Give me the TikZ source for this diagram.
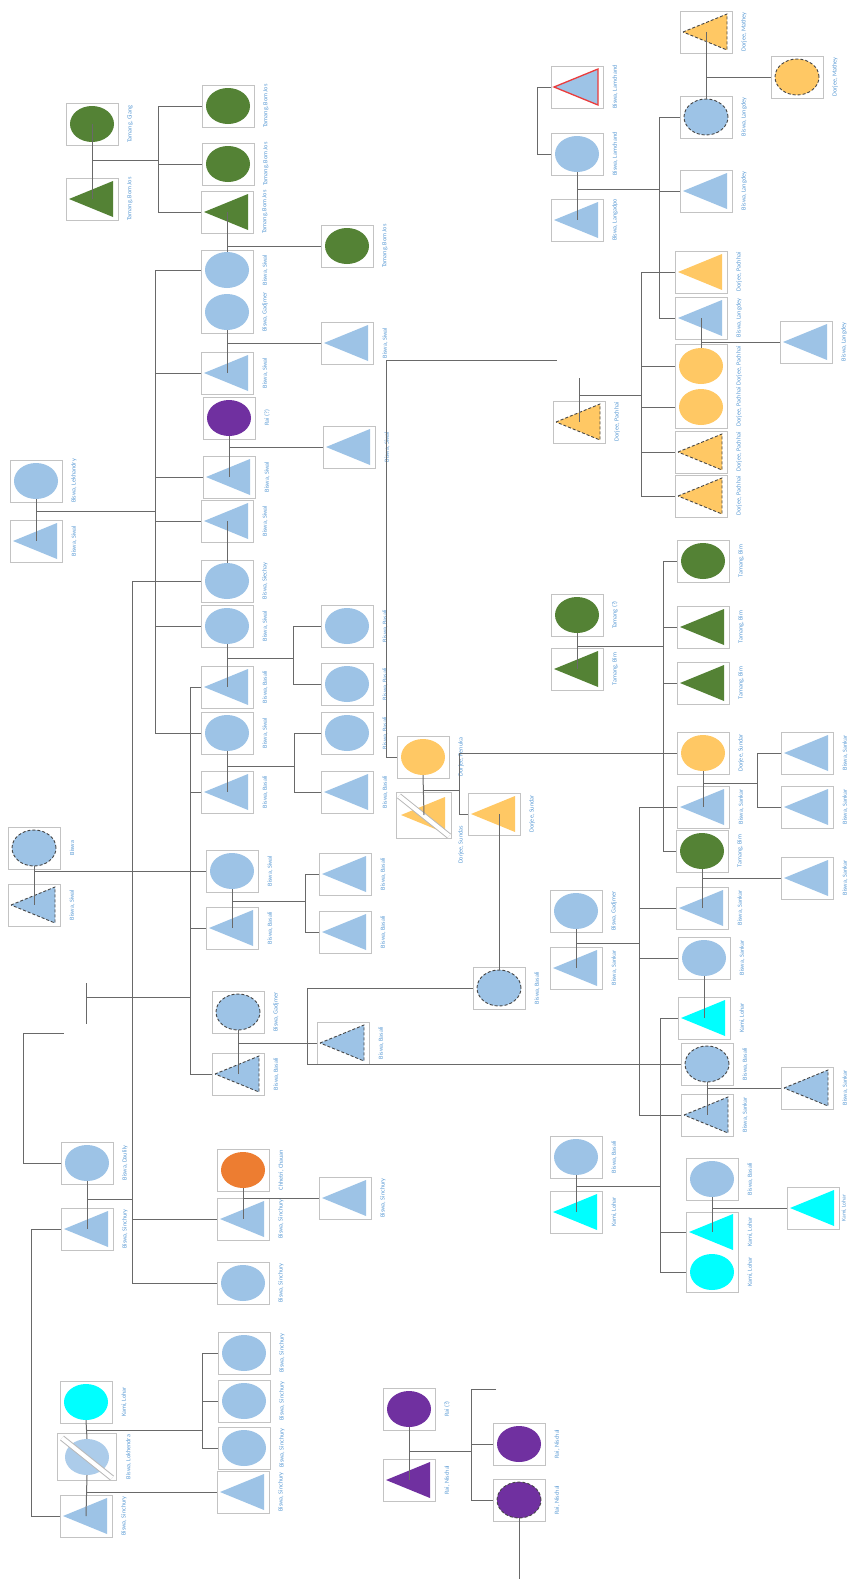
\documentclass[tikz,border=0pt]{standalone}
\usepackage{fontspec}
\setmainfont{Carlito}
\usetikzlibrary{calc,shapes.geometric}
\definecolor{pblue}{RGB}{157,195,230}
\definecolor{pgreen}{RGB}{84,130,53}
\definecolor{pyellow}{RGB}{255,200,100}
\definecolor{ppurple}{RGB}{112,48,160}
\definecolor{porange}{RGB}{237,125,49}
\definecolor{pcyan}{RGB}{0,255,255}
\definecolor{labc}{RGB}{91,155,213}
\definecolor{linec}{RGB}{105,105,105}
\definecolor{boxc}{RGB}{195,195,195}
\definecolor{dashc}{RGB}{70,70,70}
\definecolor{redc}{RGB}{235,60,60}
\tikzset{
 pbox/.style={draw=boxc, line width=0.8pt, minimum width=52pt, minimum height=42pt, inner sep=0pt, outer sep=0pt},
 ell/.style={ellipse, minimum width=44pt, minimum height=36pt, inner sep=0pt, draw=none},
 lab/.style={rotate=90, text=labc, font=\fontsize{6.2}{7}\selectfont, inner sep=0pt},
 ln/.style={draw=linec, line width=1pt},
 dsh/.style={draw=dashc, line width=0.9pt, dash pattern=on 3pt off 2pt},
 band/.style={line width=6pt, draw=gray!55},
 bandin/.style={line width=4pt, draw=white}
}
\newcommand\pcirc[6][]{%
  \node[pbox,#1] (#2) at (#3,#4) {};
  \node[ell,#5] (#2s) at (#2.center) {};
  \coordinate (#2-t) at (#2s.north);
  \coordinate (#2-b) at (#2s.south);
  \node[lab] (#2l) at ($(#2.east)+(12,0)$) {#6};}
\newcommand\ptri[6][]{%
  \node[pbox,#1] (#2) at (#3,#4) {};
  \path[#5] ($(#2.center)+(-23,0)$) -- ($(#2.center)+(21,-18)$) -- ($(#2.center)+(21,18)$) -- cycle;
  \coordinate (#2-t) at (#2.center);
  \coordinate (#2-b) at (#2.center);
  \node[lab] (#2l) at ($(#2.east)+(12,0)$) {#6};}
\newcommand\kidl[2]{\draw[ln] (#1 |- #2.west) -- (#2.west);}
\newcommand\vbarr[3]{\draw[ln] (#1 |- #2.west) -- (#1 |- #3.west);}
\begin{document}
\begin{tikzpicture}[x=1pt,y=-1pt]
\fill[white] (0,0) rectangle (849,1579);
\useasboundingbox (0,0) rectangle (849,1579);
% ---------- persons: top-left Tamang / Biswa
\pcirc{P1}{92}{124}{fill=pgreen}{Tamang, Giang}
\ptri{P2}{92}{199}{fill=pgreen}{Tamang, Bom Jos}
\pcirc{P3}{228}{106}{fill=pgreen}{Tamang, Bom Jos}
\pcirc{P4}{228}{164}{fill=pgreen}{Tamang, Bom Jos}
\ptri{P5}{227}{212}{fill=pgreen}{Tamang, Bom Jos}
\pcirc{P6}{347}{246}{fill=pgreen}{Tamang, Bom Jos}
\node[pbox,minimum height=83pt] (G1) at (227,291.5) {};
\pcirc[draw=none]{P7}{227}{270}{fill=pblue}{Biswa, Siwal}
\pcirc[draw=none]{P8}{227}{312}{fill=pblue}{Biswa, Gadjmer}
\ptri{P9}{227}{373}{fill=pblue}{Biswa, Siwal}
\ptri{P10}{347}{343}{fill=pblue}{Biswa, Siwal}
\pcirc{P11}{229}{418}{fill=ppurple}{Rai (?)}
\ptri{P12}{229}{477}{fill=pblue}{Biswa, Siwal}
\ptri{P13}{349}{447}{fill=pblue}{Biswa, Siwal}
\pcirc{P14}{36}{481}{fill=pblue}{Biswa, Lekhandry}
\ptri{P15}{36}{541}{fill=pblue}{Biswa, Siwal}
\ptri{P16}{227}{521}{fill=pblue}{Biswa, Siwal}
\pcirc{P17}{227}{581}{fill=pblue}{Biswa, Siechay}
\pcirc{P18}{227}{626}{fill=pblue}{Biswa, Siwal}
\ptri{P19}{227}{687}{fill=pblue}{Biswa, Basali}
\pcirc{P21}{347}{626}{fill=pblue}{Biswa, Basali}
\pcirc{P22}{347}{684}{fill=pblue}{Biswa, Basali}
\pcirc{P20}{227}{733}{fill=pblue}{Biswa, Siwal}
\ptri{P23}{227}{792}{fill=pblue}{Biswa, Basali}
\pcirc{P24}{347}{733}{fill=pblue}{Biswa, Basali}
\ptri{P25}{347}{792}{fill=pblue}{Biswa, Basali}
\pcirc{P26}{34}{848}{fill=pblue,dsh}{Biswa}
\ptri{P27}{34}{905}{fill=pblue,dsh}{Biswa, Siwal}
\pcirc{P28}{232}{871}{fill=pblue}{Biswa, Siwal}
\ptri{P29}{232}{928}{fill=pblue}{Biswa, Basali}
\ptri{P30}{345}{874}{fill=pblue}{Biswa, Basali}
\ptri{P31}{345}{932}{fill=pblue}{Biswa, Basali}
\pcirc{P32}{238}{1012}{fill=pblue,dsh}{Biswa, Gadjmer}
\ptri{P33}{238}{1074}{fill=pblue,dsh}{Biswa, Basali}
\ptri{P34}{343}{1043}{fill=pblue,dsh}{Biswa, Basali}
\pcirc{P35}{499}{988}{fill=pblue,dsh}{Biswa, Basali}
% ---------- Dorjee / Tamang Bim / Sankar
\pcirc{P36}{423}{757}{fill=pyellow}{Dorjee, Renuka}
\ptri[minimum width=55pt,minimum height=46pt]{P37}{424}{815}{fill=pyellow}{}
\draw[band] (399,796) -- (449,836);
\draw[bandin] (399,796) -- (449,836);
\node[lab] (P37l) at (461,845) {Dorjee, Sundas};
\ptri{P38}{494}{814}{fill=pyellow}{Dorjee, Sundar}
\pcirc{P39}{577}{615}{fill=pgreen}{Tamang (?)}
\ptri{P40}{577}{669}{fill=pgreen}{Tamang, Bim}
\pcirc{P93}{703}{561}{fill=pgreen}{Tamang, Bim}
\ptri{P94}{703}{627}{fill=pgreen}{Tamang, Bim}
\ptri{P95}{703}{683}{fill=pgreen}{Tamang, Bim}
\pcirc{P41}{703}{753}{fill=pyellow}{Dorjee, Sundar}
\ptri{P42}{703}{807}{fill=pblue}{Biswa, Sankar}
\ptri{P43}{807}{753}{fill=pblue}{Biswa, Sankar}
\ptri{P44}{807}{807}{fill=pblue}{Biswa, Sankar}
\pcirc{P45}{702}{851}{fill=pgreen}{Tamang, Bim}
\ptri{P46}{702}{908}{fill=pblue}{Biswa, Sankar}
\ptri{P47}{807}{878}{fill=pblue}{Biswa, Sankar}
\pcirc{P48}{576}{911}{fill=pblue}{Biswa, Gadjmer}
\ptri{P49}{576}{968}{fill=pblue}{Biswa, Sankar}
\pcirc{P50}{704}{958}{fill=pblue}{Biswa, Sankar}
\ptri{P51}{704}{1018}{fill=pcyan}{Kami, Lohar}
\pcirc{P52}{707}{1064}{fill=pblue,dsh}{Biswa, Basali}
\ptri{P53}{707}{1115}{fill=pblue,dsh}{Biswa, Sankar}
\ptri{P54}{807}{1088}{fill=pblue,dsh}{Biswa, Sankar}
\pcirc{P55}{576}{1157}{fill=pblue}{Biswa, Basali}
\ptri{P56}{576}{1212}{fill=pcyan}{Kami, Lohar}
\pcirc{P57}{712}{1179}{fill=pblue}{Biswa, Basali}
\node[pbox,minimum height=80pt] (G3) at (712,1252) {};
\ptri[draw=none]{P58}{712}{1232}{fill=pcyan}{Kami, Lohar}
\pcirc[draw=none]{P59}{712}{1272}{fill=pcyan}{Kami, Lohar}
\ptri{P60}{813}{1208}{fill=pcyan}{}
\node[lab,font=\fontsize{5.6}{6}\selectfont] (P60l) at ($(P60.east)+(5,0)$) {Kami, Lohar};
% ---------- bottom-left
\pcirc{P61}{87}{1163}{fill=pblue}{Biswa, Daulily}
\ptri{P62}{87}{1229}{fill=pblue}{Biswa, Sinchury}
\pcirc{P63}{243}{1170}{fill=porange}{Chhetri, Chauan}
\ptri{P64}{243}{1219}{fill=pblue}{Biswa, Sinchury}
\ptri{P65}{345}{1198}{fill=pblue}{Biswa, Sinchury}
\pcirc{P66}{243}{1283}{fill=pblue}{Biswa, Sinchury}
\pcirc{P67}{86}{1402}{fill=pcyan}{Kami, Lohar}
\pcirc[minimum width=59pt,minimum height=47pt]{P68}{87}{1457}{fill=pblue!85!white}{Biswa, Lokhendra}
\draw[band] (62,1438) -- (112,1478);
\draw[bandin] (62,1438) -- (112,1478);
\ptri{P69}{86}{1516}{fill=pblue}{Biswa, Sinchury}
\pcirc{P70}{244}{1353}{fill=pblue}{Biswa, Sinchury}
\pcirc{P71}{244}{1401}{fill=pblue}{Biswa, Sinchury}
\pcirc{P72}{244}{1448}{fill=pblue}{Biswa, Sinchury}
\ptri{P73}{243}{1492}{fill=pblue}{Biswa, Sinchury}
% ---------- purple
\pcirc{P74}{409}{1409}{fill=ppurple}{Rai (?)}
\ptri{P75}{409}{1480}{fill=ppurple}{Rai, Nischal}
\pcirc{P76}{519}{1444}{fill=ppurple}{Rai, Nischal}
\pcirc{P77}{519}{1500}{fill=ppurple,dsh}{Rai, Nischal}
% ---------- top-right
\ptri{P78}{577}{87}{fill=pblue,draw=redc,line width=1.3pt}{Biswa, Lamchand}
\pcirc{P79}{577}{154}{fill=pblue}{Biswa, Lamchand}
\ptri{P80}{577}{220}{fill=pblue}{Biswa, Langadpo}
\ptri{P84}{706}{32}{fill=pyellow,dsh}{Dorjee, Mathey}
\pcirc{P85}{797}{77}{fill=pyellow,dsh}{Dorjee, Mathey}
\pcirc{P81}{706}{117}{fill=pblue,dsh}{Biswa, Langdey}
\ptri{P82}{706}{191}{fill=pblue}{Biswa, Langdey}
\ptri{P86}{701}{272}{fill=pyellow}{Dorjee, Pachhai}
\ptri{P83}{701}{318}{fill=pblue}{Biswa, Langdey}
\ptri{P88}{806}{342}{fill=pblue}{Biswa, Langdey}
\node[pbox,minimum height=84pt] (G2) at (701,386) {};
\pcirc[draw=none]{P87}{701}{366}{fill=pyellow}{Dorjee, Pachhai}
\pcirc[draw=none]{P89}{701}{407}{fill=pyellow}{Dorjee, Pachhai}
\ptri{P90}{701}{452}{fill=pyellow,dsh}{Dorjee, Pachhai}
\ptri{P91}{701}{496}{fill=pyellow,dsh}{Dorjee, Pachhai}
\ptri{P92}{579}{422}{fill=pyellow,dsh}{Dorjee, Pachhai}
% ---------- bar coordinates
\coordinate (B1) at (158,0);
\coordinate (B2) at (155,0);
\coordinate (B3) at (132,0);
\coordinate (B4) at (190,0);
\coordinate (B5) at (663,0);
\coordinate (B6) at (639,0);
\coordinate (B7) at (660,0);
\coordinate (B8) at (641,0);
\coordinate (B9) at (659,0);
\coordinate (b293) at (293,0);
\coordinate (b294) at (294,0);
\coordinate (b305) at (305,0);
\coordinate (b307) at (307,0);
\coordinate (b459) at (459,0);
\coordinate (b757) at (757,0);
\coordinate (b202) at (202,0);
\coordinate (b471) at (471,0);
% ---------- connectors
\draw[ln] (P1.center) -- (P2.center);
\draw[ln] (92,160) -- (158,160);
\vbarr{B1}{P3}{P5} \kidl{B1}{P3} \kidl{B1}{P4} \kidl{B1}{P5}
\draw[ln] (P5-b) -- (P7-t);
\draw[ln] (227,246) -- (P6.west);
\draw[ln] (P8-b) -- (P9-t);
\draw[ln] (227,343) -- (P10.west);
\draw[ln] (P11-b) -- (P12-t);
\draw[ln] (229,447) -- (P13.west);
\draw[ln] (P14-b) -- (P15-t);
\draw[ln] (36,511) -- (155,511);
\vbarr{B2}{P7}{P20}
\kidl{B2}{P7} \kidl{B2}{P9} \kidl{B2}{P12} \kidl{B2}{P16} \kidl{B2}{P18} \kidl{B2}{P20}
\draw[ln] (P16-b) -- (P17-t);
\vbarr{B3}{P17}{P66}
\kidl{B3}{P17} \kidl{B3}{P64} \kidl{B3}{P66}
\draw[ln] (P18-b) -- (P19-t);
\draw[ln] (227,658) -- (293,658);
\vbarr{b293}{P21}{P22} \kidl{b293}{P21} \kidl{b293}{P22}
\draw[ln] (P20-b) -- (P23-t);
\draw[ln] (227,766) -- (294,766);
\vbarr{b294}{P24}{P25} \kidl{b294}{P24} \kidl{b294}{P25}
\vbarr{B4}{P19}{P33}
\kidl{B4}{P19} \kidl{B4}{P23} \kidl{B4}{P29} \kidl{B4}{P33}
\draw[ln] (P26-b) -- (P27-t);
\draw[ln] (34,871) -- (P28.west);
\draw[ln] (P28-b) -- (P29-t);
\draw[ln] (232,901) -- (305,901);
\vbarr{b305}{P30}{P31} \kidl{b305}{P30} \kidl{b305}{P31}
\draw[ln] (86,983) -- (86,1024);
\draw[ln] (86,997) -- (190,997);
\draw[ln] (P32-b) -- (P33-t);
\draw[ln] (238,1043) -- (P34.west);
\vbarr{b307}{P35}{P52} \kidl{b307}{P35} \kidl{b307}{P52}
\draw[ln] (P35-t) -- (P35-t |- P38.center);
\draw[ln] (P36-b) -- (P37-t);
\draw[ln] (423,790) -- (459,790);
\vbarr{b459}{P41}{P38} \kidl{b459}{P38} \kidl{b459}{P41}
\draw[ln] (P36.west) -- (386,757) -- (386,360) -- (557,360);
\draw[ln] (P39-b) -- (P40-t);
\draw[ln] (577,646) -- (663,646);
\vbarr{B5}{P93}{P45} \kidl{B5}{P93} \kidl{B5}{P94} \kidl{B5}{P95} \kidl{B5}{P45}
\draw[ln] (P41-b) -- (P42-t);
\draw[ln] (703,783) -- (757,783);
\vbarr{b757}{P43}{P44} \kidl{b757}{P43} \kidl{b757}{P44}
\vbarr{B6}{P42}{P53} \kidl{B6}{P42} \kidl{B6}{P46} \kidl{B6}{P50} \kidl{B6}{P53}
\draw[ln] (P45-b) -- (P46-t);
\draw[ln] (702,878) -- (P47.west);
\draw[ln] (P48-b) -- (P49-t);
\draw[ln] (576,943) -- (639,943);
\draw[ln] (P50-b) -- (P51-t);
\vbarr{B7}{P51}{P59} \kidl{B7}{P51} \kidl{B7}{P58} \kidl{B7}{P59}
\draw[ln] (P52-b) -- (P53-t);
\draw[ln] (707,1088) -- (P54.west);
\draw[ln] (P55-b) -- (P56-t);
\draw[ln] (576,1186) -- (660,1186);
\draw[ln] (P57-b) -- (P58-t);
\draw[ln] (712,1208) -- (P60.west);
\draw[ln] (P61-b) -- (P62-t);
\draw[ln] (87,1199) -- (132,1199);
\draw[ln] (P61.west) -- (23,1163) -- (23,1033) -- (64,1033);
\draw[ln] (P62.west) -- (31,1229) -- (31,1516) -- (P69.west);
\draw[ln] (P63-b) -- (P64-t);
\draw[ln] (243,1198) -- (P65.west);
\draw[ln] (P67-b) -- (P68-t);
\draw[ln] (P68-b) -- (P69-t);
\draw[ln] (86,1430) -- (202,1430);
\vbarr{b202}{P70}{P72} \kidl{b202}{P70} \kidl{b202}{P71} \kidl{b202}{P72}
\draw[ln] (86,1492) -- (P73.west);
\draw[ln] (P74-b) -- (P75-t);
\draw[ln] (409,1451) -- (471,1451);
\draw[ln] (496,1389) -- (471,1389) -- (b471 |- P77.west);
\kidl{b471}{P76} \kidl{b471}{P77}
\draw[ln] (P77-b) -- (519,1579);
\draw[ln] (P78.west) -- (537,87) -- (537,154) -- (P79.west);
\draw[ln] (P79-b) -- (P80-t);
\draw[ln] (577,189) -- (659,189);
\vbarr{B9}{P81}{P83} \kidl{B9}{P81} \kidl{B9}{P82} \kidl{B9}{P83}
\draw[ln] (P84-b) -- (P81-t);
\draw[ln] (706,77) -- (P85.west);
\vbarr{B8}{P86}{P91} \kidl{B8}{P86} \kidl{B8}{P87} \kidl{B8}{P89} \kidl{B8}{P90} \kidl{B8}{P91}
\draw[ln] (P83-b) -- (P87-t);
\draw[ln] (701,342) -- (P88.west);
\draw[ln] (579,378) -- (P92.center);
\draw[ln] (579,395) -- (641,395);
\end{tikzpicture}
\end{document}
